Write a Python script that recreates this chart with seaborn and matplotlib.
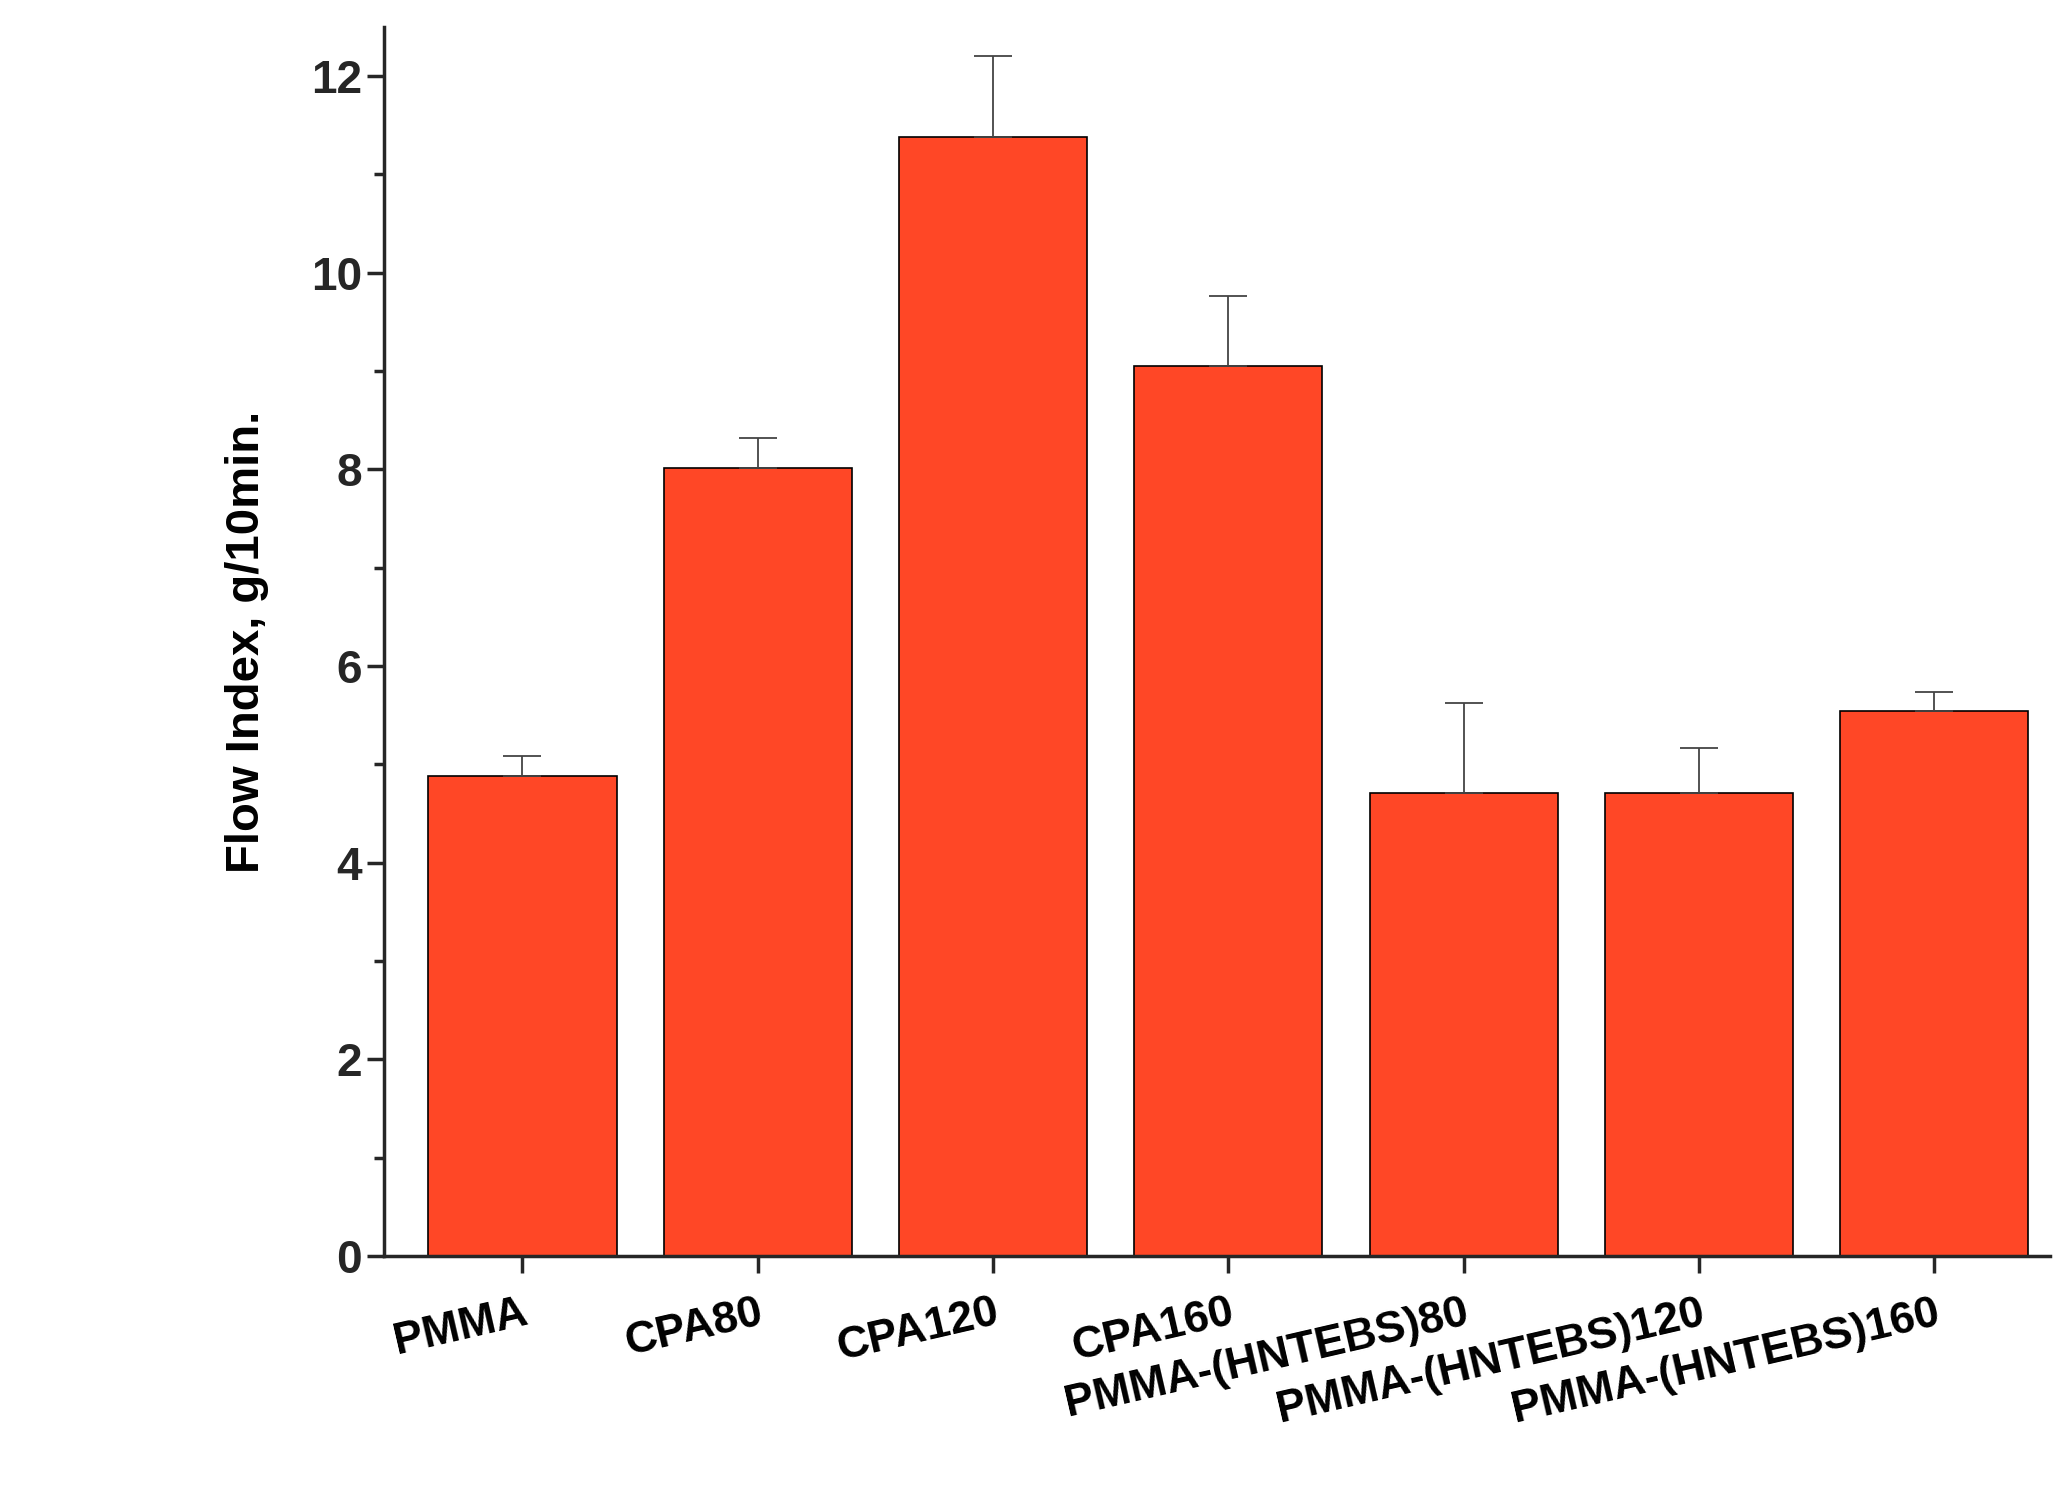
import matplotlib
matplotlib.use("Agg")
import matplotlib.pyplot as plt
import seaborn as sns
import numpy as np
import pandas as pd
from matplotlib.ticker import MultipleLocator

categories = ["PMMA", "CPA80", "CPA120", "CPA160", "PMMA-(HNTEBS)80", "PMMA-(HNTEBS)120", "PMMA-(HNTEBS)160"]
values = [4.88, 8.01, 11.38, 9.05, 4.71, 4.71, 5.54]
errors = [0.21, 0.31, 0.82, 0.71, 0.91, 0.46, 0.20]

sns.set_style("ticks")
plt.rcParams['font.family'] = ['Liberation Sans', 'DejaVu Sans']
fig = plt.figure(figsize=(20.62, 14.97), dpi=100)
ax = fig.add_axes([0.186, 0.161, 0.808, 0.821])
df = pd.DataFrame({"cat": categories, "val": values})
sns.barplot(data=df, x="cat", y="val", color="#FF4726", saturation=1, width=0.8,
            edgecolor="black", linewidth=1.2, ax=ax)
x = np.arange(len(categories))
ax.errorbar(x, values, yerr=[np.zeros(len(errors)), errors], fmt="none",
            ecolor="#444444", elinewidth=1.3, capsize=14, capthick=1.3)
ax.set_xlim(-0.59, 6.49)
ax.set_ylim(0, 12.5)
ax.yaxis.set_major_locator(MultipleLocator(2))
ax.yaxis.set_minor_locator(MultipleLocator(1))
ax.tick_params(axis="both", which="major", direction="out", length=12, width=2.5, labelsize=33)
ax.tick_params(axis="y", which="minor", direction="out", length=7, width=2.5)
ax.tick_params(axis="x", pad=14)
for lab in ax.get_yticklabels():
    lab.set_fontweight("bold")
ax.set_xticks(x)
ax.set_xticklabels(categories, rotation=13, ha="right", rotation_mode="anchor",
                   fontsize=32, fontweight="bold")
for lab in ax.get_xticklabels():
    lab.set_color("black")
ax.set_xlabel("")
ax.set_ylabel("Flow Index, g/10min.", fontsize=34, fontweight="bold", labelpad=30, color="black")
for s in ["left", "bottom"]:
    ax.spines[s].set_linewidth(2.5)
sns.despine(ax=ax)
fig.savefig("out.png", dpi=100)
